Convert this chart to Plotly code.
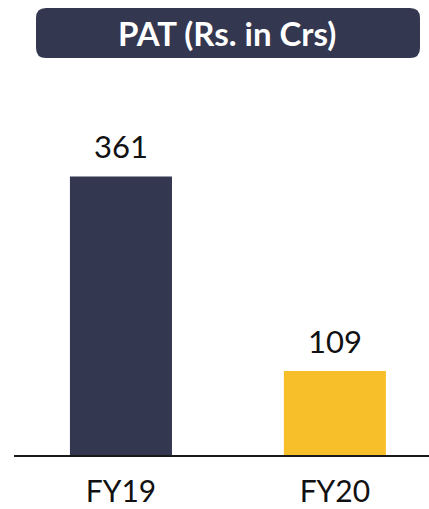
import plotly.graph_objects as go

years = ["FY19", "FY20"]
pat = [361, 109]
bar_colors = ["#333750", "#F7BF2A"]
title_text = "PAT (Rs. in Crs)"

W, H = 429, 509


def px_x(v):
    return v / W


def px_y(v):
    return 1 - v / H


def rounded_box(x0, y0, x1, y1, r):
    # path in paper coordinates with rounded corners (pixel inputs)
    rx, ry = r / W, r / H
    X0, X1 = px_x(x0), px_x(x1)
    Y0, Y1 = px_y(y1), px_y(y0)
    return (f"M {X0+rx},{Y0} L {X1-rx},{Y0} Q {X1},{Y0} {X1},{Y0+ry} "
            f"L {X1},{Y1-ry} Q {X1},{Y1} {X1-rx},{Y1} L {X0+rx},{Y1} "
            f"Q {X0},{Y1} {X0},{Y1-ry} L {X0},{Y0+ry} Q {X0},{Y0} {X0+rx},{Y0} Z")


fig = go.Figure(go.Bar(
    x=years, y=pat,
    marker=dict(color=bar_colors, line=dict(width=0)),
    width=0.477,
    hoverinfo="skip",
))

for yr, v in zip(years, pat):
    fig.add_annotation(x=yr, y=v, text=str(v), showarrow=False,
                       yanchor="bottom", yshift=9,
                       font=dict(family="Lato", size=31, color="#111111"))

fig.add_shape(type="path", path=rounded_box(36, 8, 420, 58, 10),
              xref="paper", yref="paper", fillcolor="#333750",
              line=dict(width=0), layer="below")
fig.add_annotation(x=px_x(227), y=px_y(33), xref="paper", yref="paper",
                   xanchor="center", yanchor="middle",
                   text=f"<b>{title_text}</b>", showarrow=False,
                   font=dict(family="Lato", size=33, color="white"))

fig.update_layout(
    width=W, height=H,
    margin=dict(l=0, r=0, t=0, b=0),
    paper_bgcolor="white", plot_bgcolor="rgba(0,0,0,0)",
    showlegend=False,
    xaxis=dict(domain=[px_x(14), 1], range=[-0.5, 1.44],
               showgrid=False, zeroline=False, showline=True,
               linecolor="#1a1a1a", linewidth=2, ticks="",
               tickfont=dict(family="Lato", size=30, color="#111111"),
               ticklabelstandoff=9, automargin=False),
    yaxis=dict(domain=[1 - 455 / H, 1 - 60 / H], range=[0, 512],
               visible=False, automargin=False),
)

fig.write_html("out.html", config={"displayModeBar": False},
               post_script="document.body.style.margin='0';")
